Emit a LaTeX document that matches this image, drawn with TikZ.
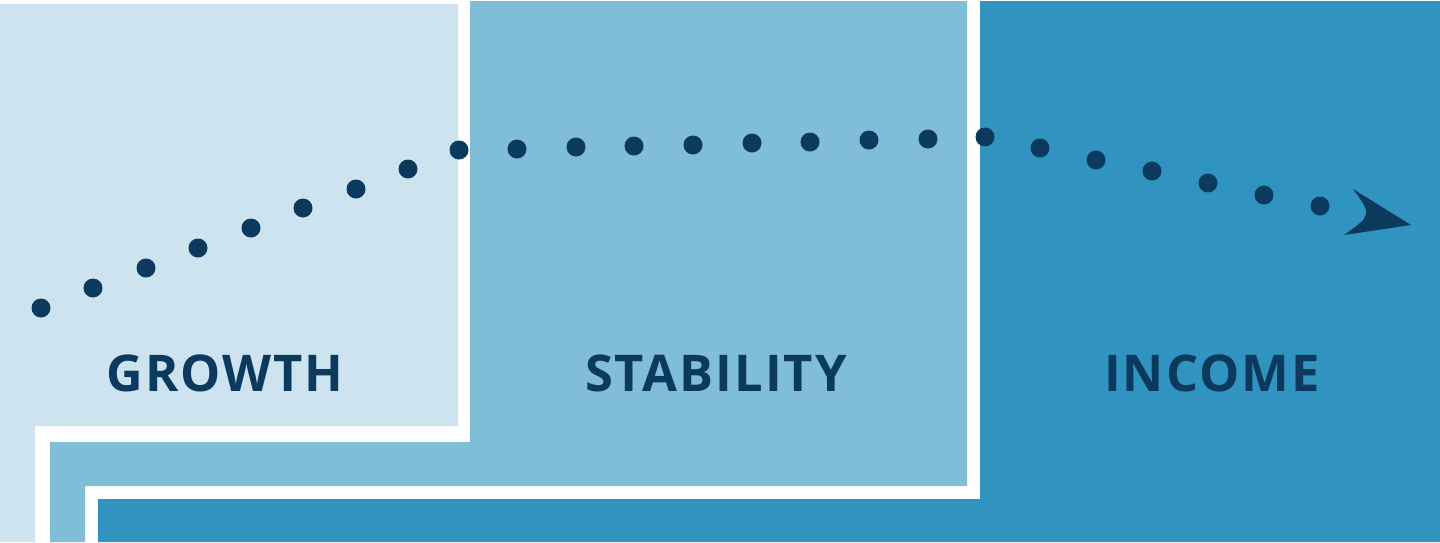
\documentclass[tikz,border=0pt]{standalone}
\usepackage{fontspec}
\setsansfont{Open Sans}
\definecolor{phlight}{HTML}{CDE4F0}
\definecolor{phmid}{HTML}{80BDD7}
\definecolor{phdark}{HTML}{3193BF}
\definecolor{phnavy}{HTML}{0B3A5E}

\begin{document}
\begin{tikzpicture}[x=0.025cm, y=-0.025cm,
  phase/.style={draw=none},
  lbl/.style={font=\sffamily\bfseries\fontsize{36}{36}\selectfont\addfontfeatures{LetterSpace=4},
              text=phnavy, anchor=center, inner sep=0pt},
  dot/.style={fill=phnavy}
]
\useasboundingbox (0,0) rectangle (1440,542);

% Phase areas
\fill[phase, phlight] (0,4) -- (458,4) -- (458,426) -- (35,426) -- (35,542) -- (0,542) -- cycle;
\fill[phase, phmid]   (470,1) -- (967,1) -- (967,486) -- (85,486) -- (85,542) -- (50,542) -- (50,442) -- (470,442) -- cycle;
\fill[phase, phdark]  (980,1) -- (1440,1) -- (1440,542) -- (98,542) -- (98,499) -- (980,499) -- cycle;

% Labels
\node[lbl] (growth)    at (225,373) {GROWTH};
\node[lbl] (stability) at (716,373) {STABILITY};
\node[lbl] (income)    at (1212,373) {INCOME};

% Dotted path
\foreach \px/\py in {41/308, 93/288, 146/268, 198/248, 251/228, 303/208, 356/189, 408/169,
                     459/150, 517/149, 576/147, 634/146, 693/145, 752/143, 810/142, 869/140,
                     928/139, 985/137, 1040/148, 1096/160, 1152/171, 1208/183, 1264/195, 1320/206}
  \fill[dot] (\px,\py) circle (9.5);

% Arrowhead
\fill[phnavy] (1411,225) -- (1353,189) .. controls (1372,215) .. (1344,235) -- cycle;
\end{tikzpicture}
\end{document}
